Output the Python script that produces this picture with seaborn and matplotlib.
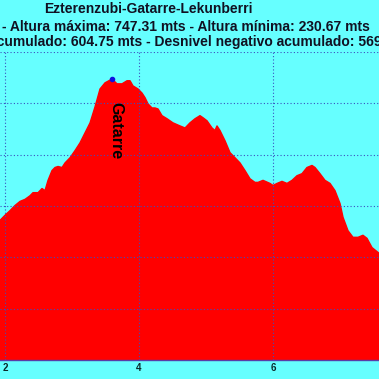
import matplotlib
matplotlib.use("Agg")
import matplotlib.pyplot as plt
import seaborn as sns
import pandas as pd

# Profile (km, altitude in m)
distance_km = [1.925, 2.000, 2.075, 2.149, 2.224, 2.299, 2.373, 2.418, 2.493, 2.552,
               2.597, 2.642, 2.701, 2.746, 2.791, 2.851, 2.896, 2.970, 3.045, 3.119,
               3.269, 3.343, 3.418, 3.493, 3.597, 3.672, 3.746, 3.821, 3.866, 3.910,
               3.985, 4.045, 4.090, 4.134, 4.194, 4.239, 4.284, 4.343, 4.418, 4.507,
               4.612, 4.687, 4.761, 4.836, 4.910, 4.955, 5.015, 5.090, 5.134, 5.164,
               5.209, 5.284, 5.358, 5.433, 5.507, 5.582, 5.657, 5.731, 5.776, 5.851,
               5.955, 6.000, 6.060, 6.134, 6.209, 6.284, 6.358, 6.433, 6.507, 6.582,
               6.627, 6.701, 6.776, 6.851, 6.925, 7.000, 7.045, 7.119, 7.194, 7.269,
               7.343, 7.403, 7.478, 7.582]
altitude_m = [472, 482, 491, 501, 509, 513, 520, 526, 526, 534,
              530, 550, 569, 575, 577, 575, 584, 594, 608, 623,
              662, 693, 728, 740, 747.31, 738, 738, 744, 744, 734,
              728, 720, 711, 699, 691, 691, 689, 676, 670, 662,
              656, 652, 662, 670, 676, 672, 666, 652, 647, 656,
              647, 627, 604, 594, 584, 569, 553, 546, 546, 550,
              544, 540, 544, 548, 544, 550, 559, 563, 575, 579,
              575, 563, 550, 544, 530, 505, 478, 452, 439, 439,
              443, 437, 419, 408]

peak_name = "Gatarre"
peak_km = 3.597
peak_alt = 747.31

title = "Ezterenzubi-Gatarre-Lekunberri"
line2 = "- Altura máxima: 747.31 mts - Altura mínima: 230.67 mts"
line3 = "Desnivel positivo acumulado: 604.75 mts - Desnivel negativo acumulado: 569"

x_ticks = [2, 4, 6]
y_ticks = [200, 300, 400, 500, 600, 700, 800]

bg = "#66ffff"
sns.set_theme(style="white")
plt.rcParams["font.family"] = ["Liberation Sans", "DejaVu Sans"]

df = pd.DataFrame({"km": distance_km, "alt": altitude_m})

W = H = 379
fig = plt.figure(figsize=(3.79, 3.79), dpi=100, facecolor=bg)
ax = fig.add_axes([0, (H - 360) / H, 1, 308 / H])
ax.set_facecolor(bg)

ax.fill_between(df["km"], 200, df["alt"], color="#ff0000", lw=0, zorder=2)
sns.lineplot(data=df, x="km", y="alt", color="#ff0000", lw=1, ax=ax, zorder=2)
ax.plot([peak_km], [peak_alt], "o", color="#1010e0", ms=3, zorder=4)
ax.text(3.66, 703, peak_name, rotation=-90, ha="center", va="top",
        fontsize=11.5, fontweight="bold", color="#000000", zorder=5)

ax.set_xlim(1.925, 7.582)
ax.set_ylim(200, 800)
ax.set_xticks(x_ticks)
ax.set_yticks(y_ticks)
# y labels fall outside the cropped view in the reference
ax.set_yticklabels([])
ax.set_xlabel("")
ax.set_ylabel("")
ax.grid(True, color="#3a50c0", linestyle=(0, (1, 2)), lw=0.8, zorder=3)
ax.set_axisbelow(False)
for s in ["top", "left", "right"]:
    ax.spines[s].set_visible(False)
ax.spines["bottom"].set_color("#5a3ca8")
ax.spines["bottom"].set_linewidth(1)
ax.tick_params(axis="both", length=0, pad=2, labelsize=7, labelcolor="#0a2a2a")
for lab in ax.get_xticklabels():
    lab.set_fontweight("bold")

def fx(px):
    return px / W

def fy(py):
    return 1 - py / H

fig.text(fx(148), fy(13), title, ha="center", va="baseline",
         fontsize=10, fontweight="bold", color="#111122")
fig.text(fx(370), fy(31), line2, ha="right", va="baseline",
         fontsize=10, fontweight="bold", color="#111122")
fig.text(fx(-129), fy(46), line3, ha="left", va="baseline",
         fontsize=10, fontweight="bold", color="#111122")

fig.savefig("out.png", dpi=100, facecolor=bg)
